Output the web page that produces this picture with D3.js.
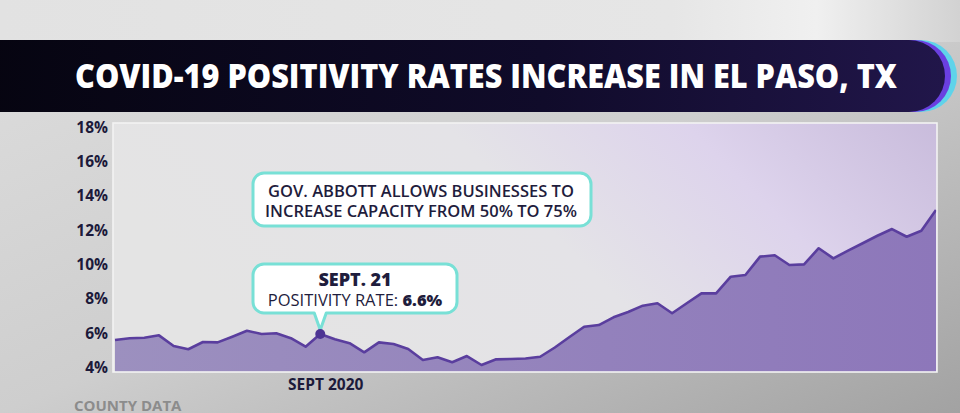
<!DOCTYPE html>
<html>
<head>
<meta charset="utf-8">
<script src="https://cdn.jsdelivr.net/npm/d3@7"></script>
<style>
  html, body { margin: 0; padding: 0; background: #d0d0d0; overflow: hidden; }
  svg { display: block; }
  text { font-family: "Open Sans", "Noto Sans", sans-serif; }
</style>
</head>
<body>
<svg id="chart" width="960" height="413"></svg>
<script>
// ---------------- data ----------------
const title = "COVID-19 POSITIVITY RATES INCREASE IN EL PASO, TX";
const startDate = new Date(2020, 8, 7); // Sept 7, 2020 (daily points)
const positivity = [
  5.56, 5.66, 5.69, 5.83, 5.21, 5.02, 5.44, 5.42, 5.75, 6.10,
  5.91, 5.95, 5.66, 5.17, 5.91, 5.60, 5.37, 4.84, 5.42, 5.32,
  5.03, 4.39, 4.55, 4.26, 4.62, 4.10, 4.43, 4.45, 4.48, 4.58,
  5.12, 5.73, 6.33, 6.43, 6.88, 7.19, 7.56, 7.70, 7.12, 7.70,
  8.28, 8.28, 9.25, 9.35, 10.42, 10.50, 9.93, 9.97, 10.91, 10.32,
  10.77, 11.20, 11.64, 12.03, 11.58, 11.93, 13.14
];
const dates = positivity.map((_, i) => d3.timeDay.offset(startDate, i));
const yTicks = [4, 6, 8, 10, 12, 14, 16, 18];
const xTickDates = [new Date(2020, 8, 21)];
const xTickLabels = ["SEPT 2020"];
const highlightDate = new Date(2020, 8, 21);
const highlightLines = ["SEPT. 21", "POSITIVITY RATE: ", "6.6%"];
const noteLines = ["GOV. ABBOTT ALLOWS BUSINESSES TO", "INCREASE CAPACITY FROM 50% TO 75%"];
const sourceText = "COUNTY DATA";

// ---------------- layout ----------------
const svg = d3.select("#chart");
const W = 960, H = 413;
const plot = { left: 113, right: 937, top: 123, bottom: 372 };

const defs = svg.append("defs");
const bgGrad = defs.append("linearGradient").attr("id", "bg")
  .attr("x1", "0").attr("y1", "0").attr("x2", "1").attr("y2", "1");
bgGrad.append("stop").attr("offset", "0%").attr("stop-color", "#dedede");
bgGrad.append("stop").attr("offset", "50%").attr("stop-color", "#cecece");
bgGrad.append("stop").attr("offset", "100%").attr("stop-color", "#a2a2a2");

const topGrad = defs.append("linearGradient").attr("id", "topbg")
  .attr("x1", "0").attr("y1", "0").attr("x2", "1").attr("y2", "0");
topGrad.append("stop").attr("offset", "0%").attr("stop-color", "#e2e2e2");
topGrad.append("stop").attr("offset", "70%").attr("stop-color", "#e6e6e6");
topGrad.append("stop").attr("offset", "85%").attr("stop-color", "#f0f0f0");
topGrad.append("stop").attr("offset", "100%").attr("stop-color", "#d2d2d2");

const barGrad = defs.append("linearGradient").attr("id", "bar")
  .attr("x1", "0").attr("y1", "0").attr("x2", "1").attr("y2", "0");
barGrad.append("stop").attr("offset", "0%").attr("stop-color", "#05040e");
barGrad.append("stop").attr("offset", "60%").attr("stop-color", "#100b2a");
barGrad.append("stop").attr("offset", "100%").attr("stop-color", "#21164a");

const plotGrad = defs.append("linearGradient").attr("id", "plotbg")
  .attr("x1", "0").attr("y1", "0.3").attr("x2", "1").attr("y2", "0");
plotGrad.append("stop").attr("offset", "0%").attr("stop-color", "#e4e4e4");
plotGrad.append("stop").attr("offset", "45%").attr("stop-color", "#e4e3e7");
plotGrad.append("stop").attr("offset", "72%").attr("stop-color", "#ddd3ec");
plotGrad.append("stop").attr("offset", "100%").attr("stop-color", "#c9bcdc");

const areaGrad = defs.append("linearGradient").attr("id", "area")
  .attr("x1", "0").attr("y1", "0").attr("x2", "1").attr("y2", "0");
areaGrad.append("stop").attr("offset", "0%").attr("stop-color", "#9c90bf");
areaGrad.append("stop").attr("offset", "100%").attr("stop-color", "#8d77ba");

// background
svg.append("rect").attr("width", W).attr("height", H).attr("fill", "url(#bg)");
svg.append("rect").attr("width", W).attr("height", 42).attr("fill", "url(#topbg)");

// title bar with rounded right cap
svg.append("rect").attr("x", -60).attr("y", 40).attr("width", 60 + 957).attr("height", 72)
  .attr("rx", 36).attr("fill", "#5fd3ea");
svg.append("rect").attr("x", -60).attr("y", 40).attr("width", 60 + 951).attr("height", 72)
  .attr("rx", 36).attr("fill", "#6a3fe0");
svg.append("rect").attr("x", -60).attr("y", 40).attr("width", 60 + 945).attr("height", 72)
  .attr("rx", 36).attr("fill", "url(#bar)");
svg.append("text").attr("x", 75).attr("y", 88)
  .attr("textLength", 822).attr("lengthAdjust", "spacingAndGlyphs")
  .attr("font-size", 34).attr("font-weight", 800).attr("fill", "#ffffff")
  .text(title);

// plot background
svg.append("rect").attr("x", plot.left).attr("y", plot.top)
  .attr("width", plot.right - plot.left).attr("height", plot.bottom - plot.top)
  .attr("fill", "url(#plotbg)");

// scales
const x = d3.scaleTime().domain(d3.extent(dates)).range([115, 936]);
const y = d3.scaleLinear().domain([4, 18]).range([366.7, 126.7]);

const data = dates.map((d, i) => ({ date: d, value: positivity[i] }));

svg.append("path").datum(data)
  .attr("fill", "url(#area)")
  .attr("d", d3.area().x(d => x(d.date)).y0(plot.bottom).y1(d => y(d.value)));
svg.append("path").datum(data)
  .attr("fill", "none").attr("stroke", "#5a3e9e").attr("stroke-width", 2.6)
  .attr("stroke-linejoin", "round")
  .attr("d", d3.line().x(d => x(d.date)).y(d => y(d.value)));

// plot border
svg.append("rect").attr("x", plot.left).attr("y", plot.top)
  .attr("width", plot.right - plot.left).attr("height", plot.bottom - plot.top)
  .attr("fill", "none").attr("stroke", "#f3f3f3").attr("stroke-width", 1.6);

// y axis
const yAxis = svg.append("g").attr("transform", `translate(${plot.left - 5},0)`)
  .call(d3.axisLeft(y).tickValues(yTicks).tickFormat(d => d + "%").tickSize(0).tickPadding(0));
yAxis.select(".domain").remove();
yAxis.selectAll("text")
  .attr("font-family", "'Open Sans', sans-serif")
  .attr("font-size", 15.5).attr("font-weight", 700).attr("fill", "#1c1a3a")
  .attr("dy", "0.36em");

// x axis
const xAxis = svg.append("g").attr("transform", `translate(0,${plot.bottom})`)
  .call(d3.axisBottom(x).tickValues(xTickDates).tickFormat((d, i) => xTickLabels[i]).tickSize(0).tickPadding(0));
xAxis.select(".domain").remove();
xAxis.selectAll("text")
  .attr("font-family", "'Open Sans', sans-serif")
  .attr("font-size", 15.5).attr("font-weight", 700).attr("fill", "#1c1a3a")
  .attr("dx", 5).attr("y", 18).attr("dy", 0);

// source
svg.append("text").attr("x", 74).attr("y", 411)
  .attr("font-size", 15).attr("font-weight", 700).attr("fill", "#8c8c8c")
  .text(sourceText);

// callout helper
function callout(x0, y0, x1, y1, r, ptr) {
  const p = d3.path();
  p.moveTo(x0 + r, y0);
  p.lineTo(x1 - r, y0);
  p.arcTo(x1, y0, x1, y0 + r, r);
  p.lineTo(x1, y1 - r);
  p.arcTo(x1, y1, x1 - r, y1, r);
  if (ptr) {
    p.lineTo(ptr.x + ptr.w / 2, y1);
    p.lineTo(ptr.x, ptr.tipY);
    p.lineTo(ptr.x - ptr.w / 2, y1);
  }
  p.lineTo(x0 + r, y1);
  p.arcTo(x0, y1, x0, y1 - r, r);
  p.lineTo(x0, y0 + r);
  p.arcTo(x0, y0, x0 + r, y0, r);
  p.closePath();
  return p.toString();
}

// note box
svg.append("path").attr("d", callout(253, 173, 591, 226, 11))
  .attr("fill", "#ffffff").attr("stroke", "#78e0d6").attr("stroke-width", 3);
const note = svg.append("text").attr("text-anchor", "middle")
  .attr("font-size", 16.5).attr("font-weight", 600).attr("fill", "#1f1d3d");
note.append("tspan").attr("x", 421).attr("y", 197).text(noteLines[0]);
note.append("tspan").attr("x", 421).attr("y", 216.5).text(noteLines[1]);

// highlight callout
const hIdx = dates.findIndex(d => +d === +highlightDate);
const hx = x(dates[hIdx]), hy = y(positivity[hIdx]);
svg.append("path")
  .attr("d", callout(253, 264, 457, 313, 11, { x: hx, w: 12, tipY: hy - 4 }))
  .attr("fill", "#ffffff").attr("stroke", "#78e0d6").attr("stroke-width", 3)
  .attr("stroke-linejoin", "round");
svg.append("text").attr("x", 355).attr("y", 286).attr("text-anchor", "middle")
  .attr("font-size", 18).attr("font-weight", 800).attr("fill", "#1f1d3d")
  .text(highlightLines[0]);
const hl = svg.append("text").attr("x", 355).attr("y", 305.5).attr("text-anchor", "middle")
  .attr("font-size", 16.5).attr("fill", "#1f1d3d");
hl.append("tspan").attr("font-weight", 500).text(highlightLines[1]);
hl.append("tspan").attr("font-weight", 800).text(highlightLines[2]);

svg.append("circle").attr("cx", hx).attr("cy", hy).attr("r", 5)
  .attr("fill", "#4d3493");
</script>
</body>
</html>
